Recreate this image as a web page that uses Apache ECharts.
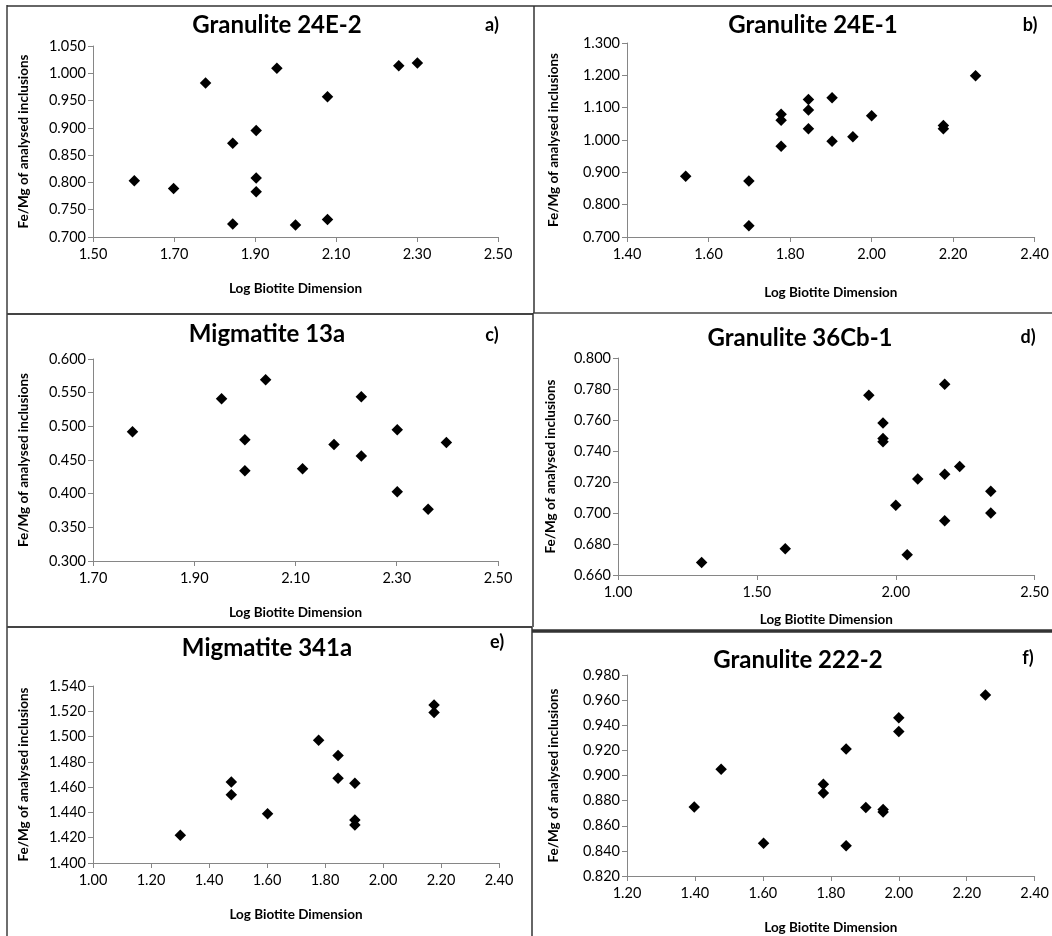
<!DOCTYPE html>
<html>
<head>
<meta charset="utf-8">
<script src="https://cdn.jsdelivr.net/npm/echarts@6/dist/echarts.min.js"></script>
<style>
  html, body { margin: 0; padding: 0; background: #fff; }
  #chart { width: 1052px; height: 936px; }
</style>
</head>
<body>
<div id="chart"></div>
<script>
// ---------------- DATA ----------------
const titles = ['Granulite 24E-2', 'Granulite 24E-1', 'Migmatite 13a', 'Granulite 36Cb-1', 'Migmatite 341a', 'Granulite 222-2'];
const letters = ['a)', 'b)', 'c)', 'd)', 'e)', 'f)'];
const xAxisName = 'Log Biotite Dimension';
const yAxisName = 'Fe/Mg of analysed inclusions';

// Panel a) Granulite 24E-2
const aX = [1.602, 1.699, 1.778, 1.845, 1.845, 1.903, 1.903, 1.903, 1.954, 2.000, 2.079, 2.079, 2.255, 2.301];
const aY = [0.803, 0.789, 0.982, 0.872, 0.724, 0.895, 0.808, 0.783, 1.009, 0.722, 0.957, 0.732, 1.014, 1.019];
const aXTicks = [1.5, 1.7, 1.9, 2.1, 2.3, 2.5];
const aYTicks = [0.70, 0.75, 0.80, 0.85, 0.90, 0.95, 1.00, 1.05];

// Panel b) Granulite 24E-1
const bX = [1.544, 1.699, 1.699, 1.778, 1.778, 1.778, 1.845, 1.845, 1.845, 1.903, 1.903, 1.954, 2.000, 2.176, 2.176, 2.255];
const bY = [0.888, 0.873, 0.735, 1.080, 1.061, 0.981, 1.125, 1.093, 1.035, 1.131, 0.996, 1.010, 1.075, 1.045, 1.035, 1.199];
const bXTicks = [1.4, 1.6, 1.8, 2.0, 2.2, 2.4];
const bYTicks = [0.7, 0.8, 0.9, 1.0, 1.1, 1.2, 1.3];

// Panel c) Migmatite 13a
const cX = [1.778, 1.954, 2.000, 2.000, 2.041, 2.114, 2.176, 2.230, 2.230, 2.301, 2.301, 2.362, 2.398];
const cY = [0.492, 0.541, 0.480, 0.434, 0.569, 0.437, 0.473, 0.544, 0.456, 0.495, 0.403, 0.377, 0.476];
const cXTicks = [1.7, 1.9, 2.1, 2.3, 2.5];
const cYTicks = [0.30, 0.35, 0.40, 0.45, 0.50, 0.55, 0.60];

// Panel d) Granulite 36Cb-1
const dX = [1.301, 1.602, 1.903, 1.954, 1.954, 1.954, 2.000, 2.041, 2.079, 2.176, 2.176, 2.176, 2.230, 2.342, 2.342];
const dY = [0.668, 0.677, 0.776, 0.758, 0.748, 0.746, 0.705, 0.673, 0.722, 0.783, 0.725, 0.695, 0.730, 0.714, 0.700];
const dXTicks = [1.0, 1.5, 2.0, 2.5];
const dYTicks = [0.66, 0.68, 0.70, 0.72, 0.74, 0.76, 0.78, 0.80];

// Panel e) Migmatite 341a
const eX = [1.301, 1.477, 1.477, 1.602, 1.778, 1.845, 1.845, 1.903, 1.903, 1.903, 2.176, 2.176];
const eY = [1.422, 1.464, 1.454, 1.439, 1.497, 1.485, 1.467, 1.463, 1.434, 1.430, 1.525, 1.519];
const eXTicks = [1.0, 1.2, 1.4, 1.6, 1.8, 2.0, 2.2, 2.4];
const eYTicks = [1.40, 1.42, 1.44, 1.46, 1.48, 1.50, 1.52, 1.54];

// Panel f) Granulite 222-2
const fX = [1.398, 1.477, 1.602, 1.778, 1.778, 1.845, 1.845, 1.903, 1.954, 1.954, 2.000, 2.000, 2.255];
const fY = [0.875, 0.905, 0.846, 0.893, 0.886, 0.921, 0.844, 0.8745, 0.873, 0.871, 0.946, 0.935, 0.964];
const fXTicks = [1.2, 1.4, 1.6, 1.8, 2.0, 2.2, 2.4];
const fYTicks = [0.82, 0.84, 0.86, 0.88, 0.90, 0.92, 0.94, 0.96, 0.98];

// ---------------- LAYOUT ----------------
const panels = [
  { xs: aX, ys: aY, xt: aXTicks, yt: aYTicks, grid: [93, 46, 405, 191], title: [277, 25], letter: [492, 25], xGap: 45, yGap: 62 },
  { xs: bX, ys: bY, xt: bXTicks, yt: bYTicks, grid: [627, 43, 410, 194], title: [813, 25], letter: [1030, 25], xGap: 49, yGap: 66 },
  { xs: cX, ys: cY, xt: cXTicks, yt: cYTicks, grid: [93, 359, 405, 202], title: [267, 334], letter: [492, 335], xGap: 45, yGap: 62 },
  { xs: dX, ys: dY, xt: dXTicks, yt: dYTicks, grid: [618, 358, 421, 217], title: [800, 338], letter: [1028, 337], xGap: 38, yGap: 60 },
  { xs: eX, ys: eY, xt: eXTicks, yt: eYTicks, grid: [93, 686, 406, 177], title: [267, 648], letter: [497, 642], xGap: 45, yGap: 62 },
  { xs: fX, ys: fY, xt: fXTicks, yt: fYTicks, grid: [627, 675, 410, 201], title: [798, 660], letter: [1028, 658], xGap: 45, yGap: 66 }
];

const FONT = 'Lato, "Open Sans", sans-serif';
const axisGray = '#868686';

const grids = [], xAxes = [], yAxes = [], series = [], graphics = [];

panels.forEach((p, i) => {
  grids.push({ left: p.grid[0], top: p.grid[1], width: p.grid[2], height: p.grid[3], containLabel: false });
  const xt = p.xt, yt = p.yt;
  const xDec = 2, yDec = 3;
  xAxes.push({
    type: 'value', gridIndex: i, min: xt[0], max: xt[xt.length - 1],
    name: xAxisName, nameLocation: 'middle', nameGap: p.xGap,
    nameTextStyle: { fontFamily: FONT, fontWeight: 'bold', fontSize: 13.5, color: '#000' },
    axisLine: { show: true, onZero: false, lineStyle: { color: axisGray, width: 1 } },
    axisTick: { show: true, inside: false, length: 5, customValues: xt, lineStyle: { color: axisGray } },
    axisLabel: { customValues: xt, formatter: v => Number(v).toFixed(xDec), fontFamily: FONT, fontSize: 14.5, color: '#000', margin: 10, showMinLabel: true, showMaxLabel: true },
    splitLine: { show: false }
  });
  yAxes.push({
    type: 'value', gridIndex: i, min: yt[0], max: yt[yt.length - 1],
    name: yAxisName, nameLocation: 'middle', nameGap: p.yGap, nameRotate: 90,
    nameTextStyle: { fontFamily: FONT, fontWeight: 'bold', fontSize: 13.5, color: '#000' },
    axisLine: { show: true, onZero: false, lineStyle: { color: axisGray, width: 1 } },
    axisTick: { show: true, inside: false, length: 5, customValues: yt, lineStyle: { color: axisGray } },
    axisLabel: { customValues: yt, formatter: v => Number(v).toFixed(yDec), fontFamily: FONT, fontSize: 14.5, color: '#000', margin: 7, showMinLabel: true, showMaxLabel: true },
    splitLine: { show: false }
  });
  series.push({
    type: 'scatter', xAxisIndex: i, yAxisIndex: i,
    symbol: 'diamond', symbolSize: 11.5,
    itemStyle: { color: '#000', opacity: 1 },
    emphasis: { disabled: true },
    data: p.xs.map((x, k) => [x, p.ys[k]])
  });
  graphics.push({
    type: 'text', x: p.title[0], y: p.title[1], silent: true,
    style: { text: titles[i], font: 'bold 24px ' + FONT, fill: '#000', textAlign: 'center', textVerticalAlign: 'middle' }
  });
  graphics.push({
    type: 'text', x: p.letter[0], y: p.letter[1], silent: true,
    style: { text: letters[i], font: 'bold 18px ' + FONT, fill: '#000', textAlign: 'center', textVerticalAlign: 'middle' }
  });
});

// panel frame lines
const frame = [
  [7, 5, 7, 936, 2, '#6e6e6e'],
  [7, 6, 1052, 6, 1.5, '#333'],
  [534, 6, 534, 313, 1.5, '#333'],
  [7, 314, 533, 314, 2, '#444'],
  [533, 313, 1052, 313, 1.5, '#444'],
  [533, 313, 533, 627, 1.5, '#333'],
  [7, 627, 532, 627, 2, '#444'],
  [532, 631, 1052, 631, 3.5, '#333'],
  [532, 627, 532, 936, 1.5, '#333']
];
frame.forEach(f => {
  graphics.push({
    type: 'line', silent: true,
    shape: { x1: f[0], y1: f[1], x2: f[2], y2: f[3] },
    style: { stroke: f[5], lineWidth: f[4] }
  });
});

const chart = echarts.init(document.getElementById('chart'), null, { renderer: 'canvas' });
chart.setOption({
  backgroundColor: '#fff',
  animation: false,
  grid: grids,
  xAxis: xAxes,
  yAxis: yAxes,
  series: series,
  graphic: graphics
});
</script>
</body>
</html>
